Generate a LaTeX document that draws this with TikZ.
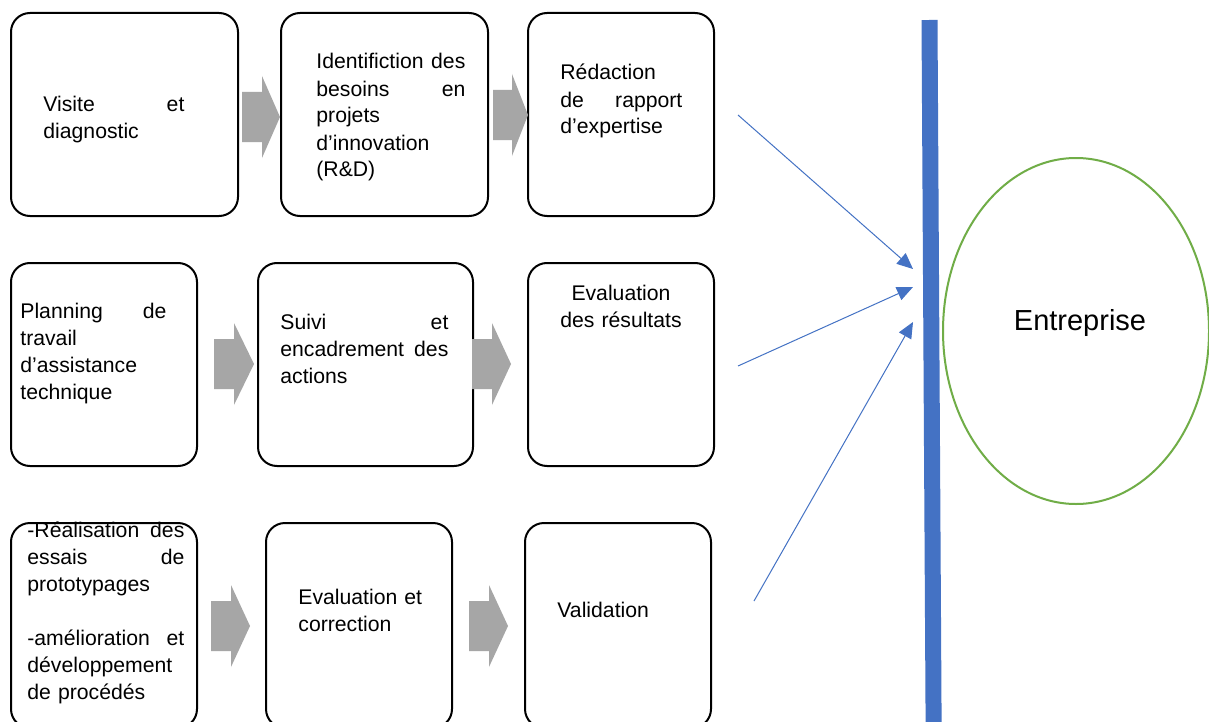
\documentclass[tikz,border=0pt]{standalone}
\usepackage{fontspec}
\setmainfont{Liberation Sans}
\usepackage{tikz}
\usetikzlibrary{arrows.meta,shapes.geometric}
\definecolor{bleu}{HTML}{4472C4}
\definecolor{vert}{HTML}{70AD47}

\begin{document}
\begin{tikzpicture}[x=0.5pt,y=-0.5pt,
  etape/.style={draw,line width=1pt,rounded corners=9.5pt,inner sep=0pt},
  texte/.style={inner sep=0pt,anchor=base west,align=left,font=\fontsize{10.6}{13.5}\selectfont},
  fleche/.style={fill=black!35},
  lien/.style={bleu,line width=0.5pt,-{Triangle[length=8pt,width=7pt]}}]
\clip (0,0) rectangle (1209,722);
\fill[white] (0,0) rectangle (1209,722);

% premiere ligne
\node[etape,minimum width=113.5pt,minimum height=101.5pt] (visite) at (124.5,114.5) {};
\node[etape,minimum width=103.5pt,minimum height=101.5pt] (besoins) at (384.5,114.5) {};
\node[etape,minimum width=93pt,minimum height=101.5pt] (rapport) at (621,114.5) {};
\node[texte,text width=70.5pt] (tvisite) at (43,112) {Visite \hfill et\\diagnostic};
\node[texte,text width=74.5pt] (tbesoins) at (316,69) {Identifiction \hfill des\\besoins \hfill en\\projets\\d’innovation\\(R\&D)};
\node[texte,text width=61pt] (trapport) at (560,80) {Rédaction\\de \hfill rapport\\d’expertise};
\fill[fleche] (242,92) -- (262,92) -- (262,76) -- (280,117) -- (262,158) -- (262,142) -- (242,142) -- cycle;
\fill[fleche] (493,90) -- (512,90) -- (512,74) -- (528,115) -- (512,156) -- (512,140) -- (493,140) -- cycle;

% deuxieme ligne
\node[etape,minimum width=93pt,minimum height=101.5pt] (planning) at (104,364.5) {};
\node[etape,minimum width=107.5pt,minimum height=101.5pt] (suivi) at (365.5,364.5) {};
\node[etape,minimum width=93pt,minimum height=101.5pt] (resultats) at (621,364.5) {};
\node[texte,text width=73pt] (tplanning) at (20,318) {Planning \hfill de\\travail\\d’assistance\\technique};
\node[texte,text width=84pt] (tsuivi) at (280,329) {Suivi \hfill et\\encadrement \hfill des\\actions};
\node[texte,anchor=base,align=center,text width=62pt] (tresultats) at (621,300) {Evaluation\\des résultats};
\fill[fleche] (214,339) -- (234,339) -- (234,323) -- (254,364) -- (234,405) -- (234,389) -- (214,389) -- cycle;
\fill[fleche] (472,339) -- (492,339) -- (492,323) -- (511,364) -- (492,405) -- (492,389) -- (472,389) -- cycle;

% troisieme ligne
\node[etape,minimum width=93pt,minimum height=102.5pt] (essais) at (104,625.5) {};
\node[etape,minimum width=93pt,minimum height=102.5pt] (correction) at (359,625.5) {};
\node[etape,minimum width=93pt,minimum height=102.5pt] (validation) at (618,625.5) {};
\node[texte,text width=78.5pt] (tessais) at (27,537) {-Réalisation \hfill des\\essais \hfill de\\prototypages\\[13.5pt]-amélioration \hfill et\\développement\\de procédés};
\node[texte,text width=70pt] (tcorrection) at (298,604) {Evaluation et\\correction};
\node[texte,text width=60pt] (tvalidation) at (557,617) {Validation};
\fill[fleche] (211,601) -- (231,601) -- (231,585) -- (250,626) -- (231,667) -- (231,651) -- (211,651) -- cycle;
\fill[fleche] (469,601) -- (489,601) -- (489,585) -- (508,626) -- (489,667) -- (489,651) -- (469,651) -- cycle;

% barre et entreprise
\coordinate (haut) at (929.5,20);
\coordinate (bas) at (933.7,740);
\draw[bleu,line width=8pt] (haut) -- (bas);
\node[ellipse,draw=vert,line width=1pt,minimum width=133pt,minimum height=173pt,inner sep=0pt] (cercle) at (1076,331) {};
\node[anchor=base,inner sep=0pt,font=\fontsize{14.5}{17}\selectfont] (entreprise) at (1080,330) {Entreprise};

\coordinate (d1) at (738,115);
\coordinate (a1) at (913,269);
\coordinate (d2) at (738,366);
\coordinate (a2) at (913,287);
\coordinate (d3) at (754,601);
\coordinate (a3) at (913,322);
\draw[lien] (d1) -- (a1);
\draw[lien] (d2) -- (a2);
\draw[lien] (d3) -- (a3);
\end{tikzpicture}
\end{document}
